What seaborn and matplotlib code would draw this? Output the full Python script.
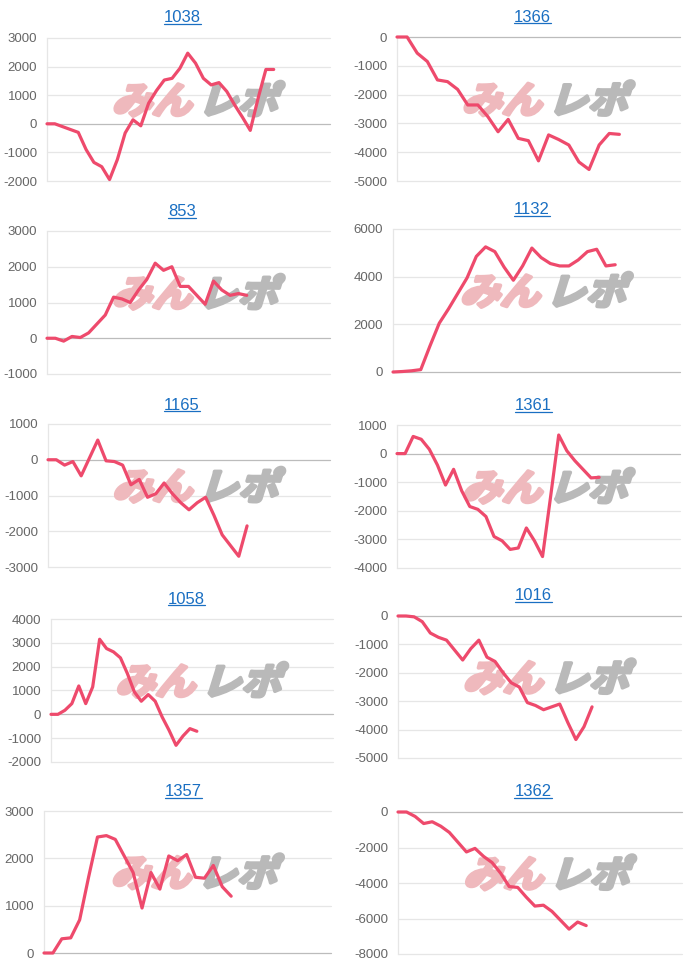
import numpy as np
import pandas as pd
import seaborn as sns
import matplotlib.pyplot as plt
from matplotlib.textpath import TextPath
from matplotlib.patches import PathPatch
from matplotlib.font_manager import FontProperties
from matplotlib.transforms import Affine2D, ScaledTranslation
from matplotlib.lines import Line2D

# --- data ---
titles = ['1038', '1366', '853', '1132', '1165', '1361', '1058', '1016', '1357', '1362']

v1038 = [0, 0, -100, -200, -300, -900, -1350, -1500, -1950, -1250, -320, 140, -70, 720,
         1160, 1530, 1590, 1940, 2470, 2120, 1590, 1360, 1440, 1130, 660, 230, -230, 890,
         1900, 1900]
v1366 = [0, 0, -560, -850, -1490, -1550, -1820, -2360, -2360, -2770, -3290, -2860, -3520,
         -3600, -4300, -3400, -3560, -3750, -4340, -4600, -3750, -3350, -3380]
v853 = [0, 0, -80, 50, 20, 150, 400, 650, 1150, 1100, 1000, 1350, 1650, 2100, 1900, 2000,
        1450, 1450, 1200, 950, 1600, 1350, 1200, 1250, 1200]
v1132 = [0, 20, 50, 100, 1100, 2050, 2650, 3300, 3950, 4850, 5250, 5050, 4400, 3850, 4450,
         5200, 4800, 4550, 4450, 4450, 4700, 5050, 5150, 4450, 4500]
v1165 = [0, 0, -150, -50, -450, 50, 550, -30, -50, -150, -700, -550, -1050, -950, -650,
         -950, -1200, -1400, -1200, -1050, -1550, -2100, -2400, -2700, -1850]
v1361 = [0, 0, 600, 500, 150, -400, -1100, -550, -1300, -1850, -1950, -2200, -2900, -3050,
         -3350, -3300, -2600, -3050, -3600, -1500, 650, 100, -250, -550, -850, -830]
v1058 = [0, 0, 170, 450, 1190, 450, 1150, 3150, 2760, 2620, 2370, 1710, 940, 550, 830, 550,
         -110, -670, -1300, -910, -600, -710]
v1016 = [0, 0, -30, -200, -600, -750, -850, -1200, -1550, -1150, -850, -1450, -1600, -2000,
         -2350, -2500, -3050, -3150, -3300, -3200, -3100, -3750, -4350, -3900, -3200]
v1357 = [0, 0, 300, 320, 700, 1600, 2450, 2480, 2400, 2050, 1700, 950, 1700, 1350, 2050,
         1950, 2080, 1600, 1580, 1850, 1400, 1200]
v1362 = [0, 0, -250, -650, -550, -800, -1150, -1700, -2250, -2050, -2500, -2850, -3450,
         -4200, -4250, -4800, -5300, -5250, -5600, -6100, -6600, -6200, -6400]
series = [v1038, v1366, v853, v1132, v1165, v1361, v1058, v1016, v1357, v1362]

yticks = [
    list(range(-2000, 3001, 1000)),
    list(range(-5000, 1, 1000)),
    list(range(-1000, 3001, 1000)),
    list(range(0, 6001, 2000)),
    list(range(-3000, 1001, 1000)),
    list(range(-4000, 1001, 1000)),
    list(range(-2000, 4001, 1000)),
    list(range(-5000, 1, 1000)),
    list(range(0, 3001, 1000)),
    list(range(-8000, 1, 2000)),
]

# --- layout (pixels) ---
W, H = 700, 964
x_span = [36.2, 28.0, 34.0, 31.0, 34.0, 35.0, 40.6, 35.0, 32.2, 33.2]
# left, top, right, bottom of each plot area
boxes = [(47, 38, 330, 181), (397, 37, 680, 181),
         (47, 231, 330, 374), (393, 229, 680, 372),
         (48, 424, 330, 567), (397, 425, 680, 568),
         (51, 619, 333, 762), (398, 616, 681, 758),
         (44, 811, 331, 953), (398, 812, 682, 954)]
title_pos = [(182, 18), (532, 17), (182, 212), (532, 210), (182, 405), (533, 406),
             (186, 599), (533, 596), (183, 792), (533, 792)]

LINE = '#ee4a6c'
GRID = '#e6e6e6'
ZERO = '#bcbcbc'
LINK = '#1a6fc2'

sns.set_theme(style='white')
plt.rcParams['font.family'] = ['Liberation Sans', 'DejaVu Sans']

fig = plt.figure(figsize=(W / 100, H / 100), dpi=100)
fig.patch.set_facecolor('white')

wm_font = FontProperties(family='Noto Sans CJK JP', weight='bold')


def watermark(ax):
    # みんレポ logo, slanted and heavy, behind the line
    for txt, col, x0 in [('みん', '#efb9bd', 0.0), ('レポ', '#b9b9b9', 2.15)]:
        tp = TextPath((x0, 0), txt, size=1, prop=wm_font)
        tr = (Affine2D().translate(-2.1, -0.38).skew_deg(16, 0).scale(0.40, 0.37)
              + fig.dpi_scale_trans + ScaledTranslation(0.54, 0.57, ax.transAxes))
        ax.add_patch(PathPatch(tp, transform=tr, facecolor=col, edgecolor=col, lw=2.6,
                               joinstyle='round', zorder=1.5, clip_on=False))


title_artists = []
for i, vals in enumerate(series):
    l, t, r, b = boxes[i]
    ax = fig.add_axes([l / W, 1 - b / H, (r - l) / W, (b - t) / H])
    df = pd.DataFrame({'x': np.arange(len(vals)), 'y': vals})
    sns.lineplot(data=df, x='x', y='y', ax=ax, color=LINE, linewidth=2.3, zorder=3)
    ax.lines[-1].set_clip_on(False)

    yt = yticks[i]
    ax.set_xlim(0, x_span[i])
    ax.set_ylim(yt[0], yt[-1])
    ax.set_yticks(yt)
    ax.set_yticklabels([str(v) for v in yt])
    ax.set_xticks([])
    ax.set_xlabel('')
    ax.set_ylabel('')
    for y in yt:
        ax.axhline(y, color=ZERO if y == 0 else GRID, lw=0.9, zorder=1, clip_on=False)
    for s in ['top', 'right', 'bottom']:
        ax.spines[s].set_visible(False)
    ax.spines['left'].set_color(GRID)
    ax.spines['left'].set_linewidth(0.9)
    ax.tick_params(axis='y', length=5, width=0.9, color=GRID, labelcolor='#666666',
                   labelsize=9.5, pad=2)
    ax.set_facecolor('none')
    watermark(ax)

    tx, ty = title_pos[i]
    title_artists.append(fig.text(tx / W, 1 - ty / H, titles[i], ha='center', va='center',
                                  color=LINK, fontsize=12))

# underline the titles like links
fig.canvas.draw()
inv = fig.transFigure.inverted()
for t in title_artists:
    bb = t.get_window_extent()
    (x0, y0), (x1, _) = inv.transform([(bb.x0, bb.y0 + 1.5), (bb.x1, bb.y0 + 1.5)])
    fig.add_artist(Line2D([x0, x1], [y0, y0], color=LINK, lw=0.9, transform=fig.transFigure))

fig.savefig('out.png', dpi=100, facecolor='white')
